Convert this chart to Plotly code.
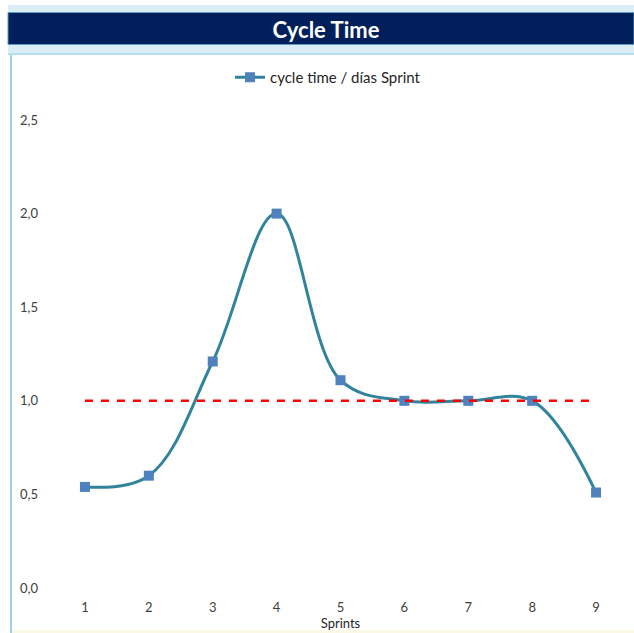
import plotly.graph_objects as go

# Datos del gráfico
sprints = [1, 2, 3, 4, 5, 6, 7, 8, 9]
cycle_time = [0.54, 0.60, 1.21, 2.00, 1.11, 1.00, 1.00, 1.00, 0.51]
objetivo_x = [1, 9]
objetivo_y = [1.0, 1.0]
y_ticks = [0.0, 0.5, 1.0, 1.5, 2.0, 2.5]

W, H = 634, 633
FONT = "Lato"


def px_x(x):
    return x / W


def px_y(y):
    return 1 - y / H


fig = go.Figure()

fig.add_trace(go.Scatter(
    x=sprints, y=cycle_time,
    mode="lines+markers",
    name="cycle time / días Sprint",
    line=dict(color="#31849B", width=3, shape="spline", smoothing=1.05),
    marker=dict(symbol="square", size=10, color="#4F81BD"),
))

fig.add_trace(go.Scatter(
    x=objetivo_x, y=objetivo_y,
    mode="lines",
    showlegend=False,
    hoverinfo="skip",
    line=dict(color="#FF0000", width=2.5, dash="8px,8px"),
))

shapes = [
    # franjas de la cabecera
    dict(type="rect", xref="paper", yref="paper", x0=px_x(8), x1=1, y0=px_y(12.5), y1=px_y(5),
         fillcolor="#DCEEF5", line=dict(width=0), layer="below"),
    dict(type="rect", xref="paper", yref="paper", x0=px_x(8), x1=1, y0=px_y(55), y1=px_y(44),
         fillcolor="#DCEEF5", line=dict(width=0), layer="below"),
    dict(type="line", xref="paper", yref="paper", x0=px_x(8), x1=1, y0=px_y(54), y1=px_y(54),
         line=dict(color="#A9DBE8", width=1.5), layer="below"),
    dict(type="rect", xref="paper", yref="paper", x0=px_x(8), x1=1, y0=px_y(44.5), y1=px_y(12.5),
         fillcolor="#001F5B", line=dict(color="#5A9BC0", width=1), layer="below"),
    # borde izquierdo del área del gráfico
    dict(type="line", xref="paper", yref="paper", x0=px_x(11), x1=px_x(11), y0=0, y1=px_y(55),
         line=dict(color="#9AD4E4", width=2), layer="below"),
    # franja inferior
    dict(type="rect", xref="paper", yref="paper", x0=px_x(12), x1=1, y0=0, y1=px_y(630),
         fillcolor="#FBF9E6", line=dict(width=0), layer="below"),
]

fig.update_layout(
    width=W, height=H,
    margin=dict(l=0, r=0, t=0, b=0, autoexpand=False),
    paper_bgcolor="white",
    plot_bgcolor="white",
    separators=", ",
    font=dict(family=FONT, size=13, color="#404040"),
    shapes=shapes,
    title=dict(
        text="<b>Cycle Time</b>",
        x=px_x(326), xanchor="center",
        y=px_y(30), yanchor="middle",
        font=dict(family=FONT, size=22, color="white"),
        automargin=False,
    ),
    legend=dict(
        orientation="h",
        x=px_x(328), xanchor="center",
        y=px_y(61), yanchor="top",
        font=dict(family=FONT, size=15, color="#262626"),
        bgcolor="rgba(0,0,0,0)",
    ),
    xaxis=dict(
        domain=[px_x(53), px_x(628)],
        range=[0.5, 9.5],
        tickvals=sprints,
        showgrid=False, zeroline=False, showline=False,
        ticks="",
        ticklabelstandoff=10,
        automargin=False,
        tickfont=dict(family=FONT, size=13, color="#404040"),
        title=dict(text="Sprints", standoff=3,
                   font=dict(family=FONT, size=13, color="#262626")),
        fixedrange=True,
    ),
    yaxis=dict(
        domain=[px_y(588), px_y(120)],
        range=[0, 2.5],
        tickvals=y_ticks,
        tickformat=".1f",
        showgrid=False, zeroline=False, showline=False,
        ticks="",
        ticklabelstandoff=14,
        automargin=False,
        tickfont=dict(family=FONT, size=13, color="#404040"),
        fixedrange=True,
    ),
)

fig.write_html("out.html")
